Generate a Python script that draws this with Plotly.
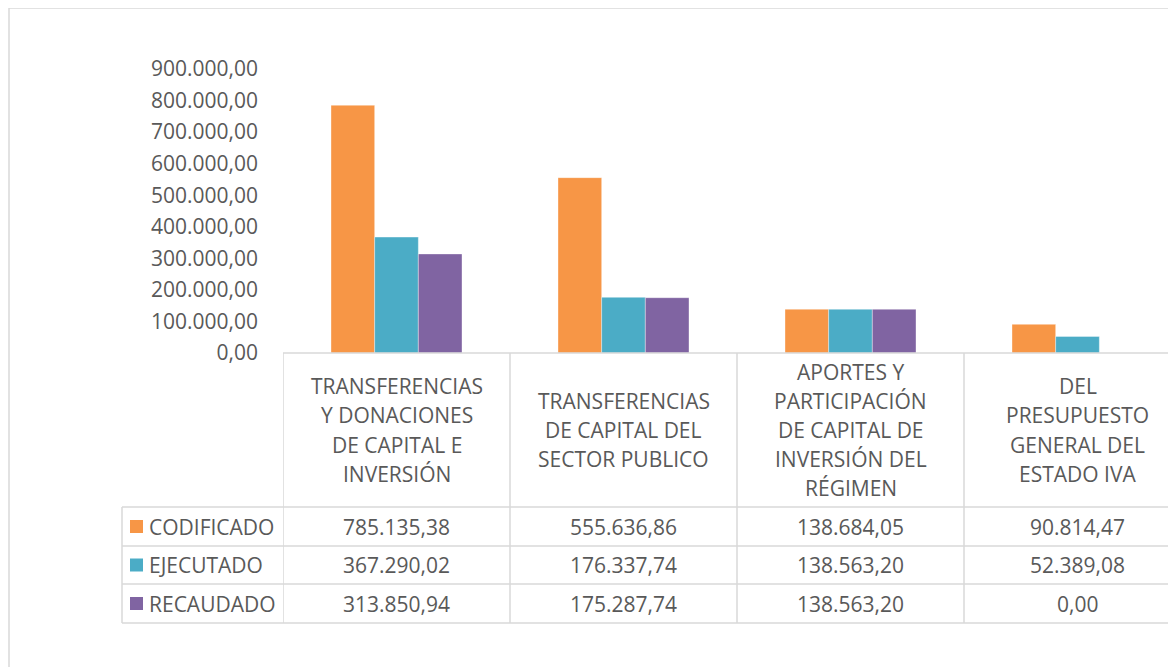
import plotly.graph_objects as go

# ---- data -------------------------------------------------------------
categories = [
    "TRANSFERENCIAS Y DONACIONES DE CAPITAL E INVERSIÓN",
    "TRANSFERENCIAS DE CAPITAL DEL SECTOR PUBLICO",
    "APORTES Y PARTICIPACIÓN DE CAPITAL DE INVERSIÓN DEL RÉGIMEN",
    "DEL PRESUPUESTO GENERAL DEL ESTADO IVA",
]
category_lines = [
    ["TRANSFERENCIAS", "Y DONACIONES", "DE CAPITAL E", "INVERSIÓN"],
    ["TRANSFERENCIAS", "DE CAPITAL DEL", "SECTOR PUBLICO"],
    ["APORTES Y", "PARTICIPACIÓN", "DE CAPITAL DE", "INVERSIÓN DEL", "RÉGIMEN"],
    ["DEL", "PRESUPUESTO", "GENERAL DEL", "ESTADO IVA"],
]
series_names = ["CODIFICADO", "EJECUTADO", "RECAUDADO"]
codificado = [785135.38, 555636.86, 138684.05, 90814.47]
ejecutado = [367290.02, 176337.74, 138563.20, 52389.08]
recaudado = [313850.94, 175287.74, 138563.20, 0.00]
series_values = [codificado, ejecutado, recaudado]
colors = ["#F79646", "#4BACC6", "#8064A2"]
y_ticks = [0, 100000, 200000, 300000, 400000, 500000, 600000, 700000, 800000, 900000]

# ---- geometry helpers (page pixel -> paper) ---------------------------
OFF = 8                      # page body margin the figure sits inside
W, H = 1176, 667 - OFF
PLOT_L, PLOT_T, PLOT_B = 283, 69, 353   # page pixels
PLOT_R = OFF + W
PLOT_W = PLOT_R - PLOT_L
PLOT_H = PLOT_B - PLOT_T
GRID = "#D9D9D9"
TXT = "#595959"
FONT = "Open Sans"
FS = 21


def px(x):
    return (x - PLOT_L) / PLOT_W


def py(y):
    return (PLOT_B - y) / PLOT_H


def fmt(v):
    s = f"{v:,.2f}"
    return s.replace(",", "X").replace(".", ",").replace("X", ".")


x_idx = list(range(len(categories)))

fig = go.Figure()
for name, vals, col in zip(series_names, series_values, colors):
    fig.add_trace(
        go.Bar(
            name=name,
            x=x_idx,
            y=vals,
            marker_color=col,
            marker_line={"color": "rgba(255,255,255,0.6)", "width": 0.6},
            showlegend=False,
        )
    )

shapes = []
annotations = []

# outer chart border (right / bottom edges fall outside the picture)
shapes.append(dict(type="rect", xref="paper", yref="paper",
                   x0=px(9), x1=px(1300), y0=py(8), y1=py(800),
                   line={"color": GRID, "width": 1.5}))

# data table grid
x_right = px(1300)
for yy in [507, 546, 584, 623]:
    shapes.append(dict(type="line", xref="paper", yref="paper",
                       x0=px(122), x1=x_right, y0=py(yy), y1=py(yy),
                       line={"color": GRID, "width": 1.5}))
shapes.append(dict(type="line", xref="paper", yref="paper",
                   x0=px(283), x1=x_right, y0=py(353), y1=py(353),
                   line={"color": GRID, "width": 1.5}))
shapes.append(dict(type="line", xref="paper", yref="paper",
                   x0=px(122), x1=px(122), y0=py(507), y1=py(623),
                   line={"color": GRID, "width": 1.5}))
for b in [-0.5, 0.5, 1.5, 2.5]:
    shapes.append(dict(type="line", xref="x", yref="paper",
                       x0=b, x1=b, y0=py(353), y1=py(623),
                       line={"color": GRID, "width": 1.5}))

# header cells: category names, one annotation per wrapped line
LINE_H = 29.2
for i, lines in enumerate(category_lines):
    n = len(lines)
    for k, line in enumerate(lines):
        yy = 430 + (k - (n - 1) / 2) * LINE_H
        annotations.append(dict(x=i, y=py(yy), xref="x", yref="paper",
                                text=line, showarrow=False, yanchor="middle",
                                font={"family": FONT, "size": FS, "color": TXT}))

# table rows: legend keys, series names and values
row_centers = [526.5, 565, 603.5]
for r, (name, vals, col) in enumerate(zip(series_names, series_values, colors)):
    yc = row_centers[r]
    shapes.append(dict(type="rect", xref="paper", yref="paper",
                       x0=px(130), x1=px(143), y0=py(yc - 6.5), y1=py(yc + 6.5),
                       fillcolor=col, line={"width": 0}))
    annotations.append(dict(x=px(147), y=py(yc), xref="paper", yref="paper",
                            text=name, showarrow=False, xanchor="left",
                            yanchor="middle",
                            font={"family": FONT, "size": FS, "color": TXT}))
    for i, v in enumerate(vals):
        annotations.append(dict(x=i, y=py(yc), xref="x", yref="paper",
                                text=fmt(v), showarrow=False, yanchor="middle",
                                font={"family": FONT, "size": FS, "color": TXT}))

fig.update_layout(
    width=W,
    height=H,
    margin={"l": PLOT_L - OFF, "r": 0, "t": PLOT_T - OFF, "b": H - (PLOT_B - OFF)},
    paper_bgcolor="white",
    plot_bgcolor="white",
    barmode="group",
    bargap=0.423,
    bargroupgap=0,
    separators=",.",
    font={"family": FONT, "size": FS, "color": TXT},
    shapes=shapes,
    annotations=annotations,
    xaxis={
        "range": [-0.5, -0.5 + PLOT_W / 227],
        "showticklabels": False,
        "showgrid": False,
        "zeroline": False,
        "showline": False,
        "ticks": "",
    },
    yaxis={
        "range": [0, 900000],
        "tickvals": y_ticks,
        "tickformat": ",.2f",
        "showgrid": False,
        "zeroline": False,
        "showline": False,
        "ticklabelstandoff": 24,
        "tickfont": {"family": FONT, "size": FS, "color": TXT},
    },
)

fig.write_html("out.html")
